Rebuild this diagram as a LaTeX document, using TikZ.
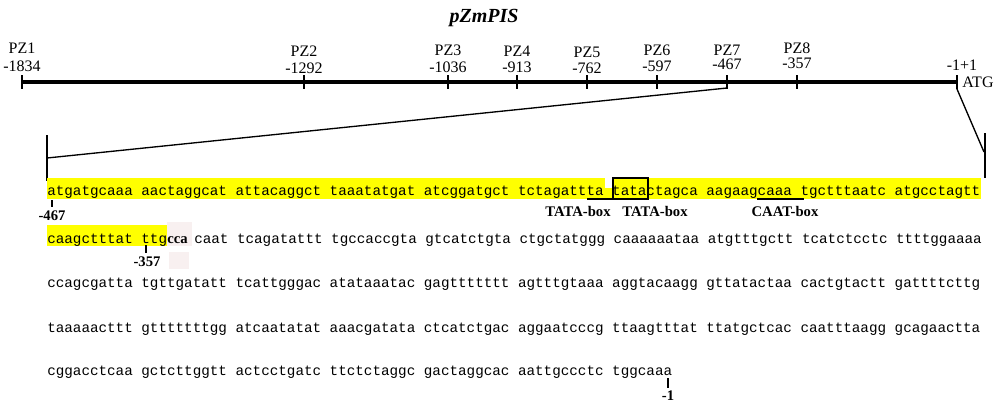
\documentclass[tikz,border=0pt]{standalone}
\usepackage{fontspec}
\setmainfont{Liberation Serif}
\setmonofont{Liberation Mono}
\definecolor{hl}{RGB}{255,255,0}
\definecolor{pinkbg}{RGB}{248,240,240}
\begin{document}
\begin{tikzpicture}[x=0.75pt,y=-0.75pt,
  lbl/.style={font=\fontsize{12}{13}\selectfont, inner sep=0},
  seq/.style={font=\ttfamily\fontsize{10.7}{12}\selectfont, inner sep=0, anchor=base west},
  ann/.style={font=\bfseries\fontsize{11}{12}\selectfont, inner sep=0},
  tickline/.style={line width=2pt},
  thinline/.style={line width=1pt},
  markline/.style={line width=0.9pt}]
\useasboundingbox (0,0) rectangle (1000,405);
\fill[white] (0,0) rectangle (1000,405);

% title
\node[font=\bfseries\itshape\fontsize{15}{17}\selectfont, inner sep=0] (title) at (484,18) {pZmPIS};

% backbone
\coordinate (bl) at (22,82);
\coordinate (br) at (957,82);
\draw[line width=2.4pt] (bl) -- (br);
\foreach \n/\x/\ya/\yb/\p in {1/22/48/66/-1834, 2/304/51/68/-1292, 3/448/50/67/-1036,
    4/517/51/67/-913, 5/587/52/68/-762, 6/657/50/66/-597, 7/727/50/64/-467, 8/797/48/63/-357}{
  \coordinate (t\n) at (\x,82);
  \draw[tickline] (\x,75) -- (\x,89);
  \node[lbl] (pz\n) at (\x,\ya) {PZ\n};
  \node[lbl] (pos\n) at (\x,\yb) {\p};
}
\draw[tickline] (957,75) -- (957,89);
\coordinate (t9) at (957,89);
\node[lbl] (posend) at (962,65) {-1+1};
\node[lbl] (atg) at (978,82) {ATG};

% zoom lines
\coordinate (t7b) at (727,88);
\coordinate (zl) at (47,158);
\coordinate (zr) at (984,152);
\draw[thinline] (t7b) -- (zl);
\draw[thinline] (t9) -- (zr);
\draw[thinline] (47,135) -- (47,181);
\draw[thinline] (985,133) -- (985,178);

% highlights
\fill[hl] (47,178) rectangle (981,199);
\fill[white] (605,178) rectangle (612,188);
\fill[hl] (47,225) rectangle (167,246);
\fill[pinkbg] (167,222) rectangle (192,246);
\fill[pinkbg] (169,252) rectangle (189,269);

% sequence rows
\node[seq] (r1) at (47,195) {atgatgcaaa aactaggcat attacaggct taaatatgat atcggatgct tctagattta tatactagca aagaagcaaa tgctttaatc atgcctagtt};
\node[seq] (r2a) at (47,243) {caagctttat ttg};
\node[font=\bfseries\fontsize{11}{12}\selectfont, inner sep=0, anchor=base west] (r2b) at (167,243) {cca};
\node[seq] (r2c) at (194,243) {caat tcagatattt tgccaccgta gtcatctgta ctgctatggg caaaaaataa atgtttgctt tcatctcctc ttttggaaaa};
\node[seq] (r3) at (47,287) {ccagcgatta tgttgatatt tcattgggac atataaatac gagttttttt agtttgtaaa aggtacaagg gttatactaa cactgtactt gattttcttg};
\node[seq] (r4) at (47,332) {taaaaacttt gtttttttgg atcaatatat aaacgatata ctcatctgac aggaatcccg ttaagtttat ttatgctcac caatttaagg gcagaactta};
\node[seq] (r5) at (47,375) {cggacctcaa gctcttggtt actcctgatc ttctctaggc gactaggcac aattgccctc tggcaaa};

% motif marks
\coordinate (u1a) at (587,199);
\coordinate (u1b) at (613,199);
\draw[markline] (u1a) -- (u1b);
\draw[markline] (613,178) rectangle (648,199);
\coordinate (u2a) at (757,199);
\coordinate (u2b) at (804,199);
\draw[markline] (u2a) -- (u2b);
\node[ann] (tata1) at (578,211) {TATA-box};
\node[ann] (tata2) at (655,211) {TATA-box};
\node[ann] (caat) at (785,211) {CAAT-box};

% position marks
\draw[markline] (52,200) -- (52,207);
\node[ann] (m467) at (52,216) {-467};
\draw[markline] (146,245) -- (146,253);
\node[ann] (m357) at (147,262) {-357};
\draw[markline] (668,378) -- (668,388);
\node[ann] (m1) at (668,396) {-1};
\end{tikzpicture}
\end{document}
